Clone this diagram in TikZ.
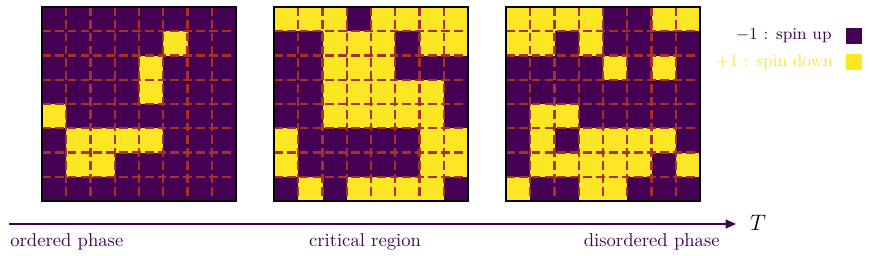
\documentclass[tikz,border=0pt]{standalone}
\usetikzlibrary{arrows.meta}
\definecolor{spinpurple}{HTML}{440154}
\definecolor{spinyellow}{HTML}{FDE725}
\definecolor{gridbrown}{HTML}{A8302A}
\tikzset{
  gridline/.style={draw=gridbrown, line width=1.2pt, dash pattern=on 4.7pt off 2.2pt},
  gridframe/.style={draw=black, line width=0.6pt},
  legtext/.style={inner sep=0pt, anchor=east, font=\small},
  legsq/.style={inner sep=0pt, minimum size=9.1pt, draw=none},
  axisline/.style={draw=spinpurple, line width=0.8pt, -{Triangle[length=5.6pt,width=4.8pt]}},
  phaselabel/.style={inner sep=0pt, text=spinpurple, font=\normalsize},
}
\newcommand\isinggrid[2]{%
  \begin{scope}[shift={(#1,0)}]
    \fill[spinpurple] (0,7) rectangle ++(194,194);
    \foreach \rowlist [count=\r from 0] in {#2} {
      \foreach \v [count=\c from 0] in \rowlist {
        \ifnum\v=1
          \fill[spinyellow] (\c*24.25,7+\r*24.25) rectangle ++(24.25,24.25);
        \fi
      }
    }
    \foreach \i in {1,...,7} {
      \draw[gridline] (\i*24.25,7) -- ++(0,194);
    }
    \foreach \i in {1,...,7} {
      \draw[gridline] (0,7+\i*24.25) -- ++(194,0);
    }
    \draw[gridframe] (0,7) rectangle ++(194,194);
  \end{scope}%
}
\begin{document}
\begin{tikzpicture}[x=0.537pt, y=-0.537pt]
  \fill[white] (0,0) rectangle (872,256);
  \useasboundingbox (0,0) rectangle (872,256);
  % ordered
  \isinggrid{42}{{0,0,0,0,0,0,0,0},{0,0,0,0,0,1,0,0},{0,0,0,0,1,0,0,0},{0,0,0,0,1,0,0,0},{1,0,0,0,0,0,0,0},{0,1,1,1,1,0,0,0},{0,1,1,0,0,0,0,0},{0,0,0,0,0,0,0,0}}
  % critical
  \isinggrid{274}{{1,1,1,0,1,1,1,1},{0,0,1,1,1,0,1,1},{0,0,1,1,1,0,0,0},{0,0,1,1,1,1,1,0},{0,0,1,1,1,1,1,0},{1,0,0,0,0,0,1,1},{1,0,0,0,0,0,1,1},{0,1,0,1,1,1,1,0}}
  % disordered
  \isinggrid{506}{{1,1,1,1,0,0,1,1},{1,1,0,1,0,0,0,0},{0,0,0,0,1,0,1,0},{0,0,0,0,0,0,0,0},{0,1,1,0,0,0,0,0},{0,1,0,1,1,1,1,0},{0,1,1,1,1,1,0,1},{1,0,0,1,1,0,0,0}}
  % legend
  \node[legtext, text=spinpurple] (lup) at (832,36) {$-1$ : spin up};
  \node[legtext, text=spinyellow] (ldown) at (833,62) {$+1$ : spin down};
  \node[legsq, fill=spinpurple] (squp) at (854,36) {};
  \node[legsq, fill=spinyellow] (sqdown) at (854,62) {};
  % axis
  \coordinate (a0) at (9,224);
  \coordinate (a1) at (736,224);
  \draw[axisline] (a0) -- (a1);
  \node[inner sep=0pt, font=\large] (T) at (758,223) {$T$};
  \node[phaselabel, anchor=west] (ord) at (10,242) {ordered phase};
  \node[phaselabel] (crit) at (365,242) {critical region};
  \node[phaselabel, anchor=east] (dis) at (720,242) {disordered phase};
\end{tikzpicture}
\end{document}
